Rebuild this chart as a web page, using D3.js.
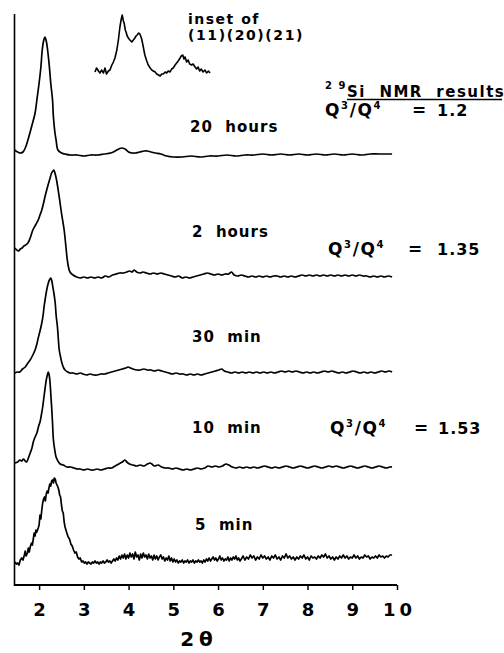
<!DOCTYPE html>
<html>
<head>
<meta charset="utf-8">
<script src="https://cdn.jsdelivr.net/npm/d3@7"></script>
<style>
  html, body { margin: 0; background: #fff; }
  svg { display: block; }
  text { font-family: "DejaVu Sans", sans-serif; font-weight: bold; fill: #000; }
</style>
</head>
<body>
<svg id="chart" width="504" height="653"></svg>
<script>
// ---- data: XRD patterns (2θ, intensity above each pattern's own baseline) ----
const tickValues = [2, 3, 4, 5, 6, 7, 8, 9, 10];
const tickLabels = ["2", "3", "4", "5", "6", "7", "8", "9", "10"];
const sampleNames = ["20  hours", "2  hours", "30  min", "10  min", "5  min"];
const stackOffsets = [430, 308, 212, 117, 22];
const nmrRatios = ["1.2", "1.35", null, "1.53", null];

const trace20h = [
  [1.45,5],[1.52,3],[1.58,2],[1.64,3],[1.70,8],[1.75,15],[1.83,28],[1.91,42],[1.95,55],[2.00,72],
  [2.04,88],[2.07,105],[2.10,114],[2.13,118],[2.16,114],[2.19,105],[2.23,88],[2.26,72],[2.30,55],
  [2.32,38],[2.355,22],[2.38,15],[2.42,5],[2.50,2],[2.58,1],[2.70,0],[2.85,0],[3.00,-1],[3.15,0],
  [3.30,0],[3.45,1],[3.60,2],[3.70,4],[3.78,6],[3.85,7],[3.92,6],[4.00,3],[4.08,2],[4.15,2],[4.25,3],
  [4.35,4],[4.42,4],[4.50,3],[4.60,2],[4.72,1],[4.85,-1],[5.00,-2],[5.20,-2],[5.40,-1],[5.60,-2],
  [5.80,-1],[6.00,-1],[6.20,0],[6.40,-1],[6.60,0],[6.80,0],[7.00,1],[7.20,0],[7.40,1],[7.60,0],
  [7.80,1],[8.00,0],[8.20,1],[8.40,0],[8.60,1],[8.80,0],[9.00,1],[9.20,0],[9.40,1],[9.60,1],[9.89,1]
];

const trace2h = [
  [1.46,29],[1.50,27],[1.54,26],[1.58,28],[1.62,29],[1.66,31],[1.70,32],[1.75,34],[1.80,39],[1.86,47],
  [1.92,52],[1.98,57],[2.02,62],[2.06,67],[2.10,74],[2.13,80],[2.17,87],[2.20,92],[2.24,98],[2.28,104],
  [2.31,106],[2.33,107],[2.36,103],[2.39,97],[2.45,80],[2.50,64],[2.56,47],[2.60,30],[2.64,14],
  [2.69,5],[2.76,2],[2.84,0],[2.92,-1],[3.00,0],[3.08,-1],[3.16,0],[3.24,-1],[3.32,0],[3.40,-1],
  [3.48,1],[3.56,0],[3.64,2],[3.72,3],[3.80,4],[3.88,4],[3.96,5],[4.02,6],[4.08,5],[4.12,7],[4.18,5],
  [4.26,4],[4.32,5],[4.40,4],[4.48,3],[4.56,4],[4.64,3],[4.72,4],[4.80,3],[4.88,2],[4.96,1],[5.04,0],
  [5.12,1],[5.20,-1],[5.28,0],[5.36,-1],[5.44,0],[5.52,1],[5.60,2],[5.68,3],[5.76,4],[5.84,3],[5.92,2],
  [6.00,3],[6.08,2],[6.16,3],[6.24,3],[6.30,5],[6.36,2],[6.44,1],[6.52,2],[6.60,1],[6.68,0],[6.76,1],
  [6.84,0],[6.92,1],[7.00,0],[7.08,1],[7.16,0],[7.24,1],[7.32,1],[7.40,0],[7.48,1],[7.56,0],[7.64,1],
  [7.72,0],[7.80,1],[7.88,2],[7.96,1],[8.04,2],[8.12,1],[8.20,2],[8.28,1],[8.36,2],[8.44,1],[8.52,2],
  [8.60,1],[8.68,2],[8.76,1],[8.84,2],[8.92,1],[9.00,2],[9.08,1],[9.16,2],[9.24,1],[9.32,1],[9.40,0],
  [9.48,1],[9.56,0],[9.64,1],[9.72,0],[9.80,1],[9.89,0]
];

const trace30m = [
  [1.46,0],[1.52,1],[1.57,1],[1.63,4],[1.69,6],[1.75,10],[1.80,13],[1.86,18],[1.91,23],[1.95,29],
  [1.98,35],[2.02,42],[2.06,50],[2.09,58],[2.11,66],[2.14,75],[2.17,83],[2.20,89],[2.23,93],[2.26,95],
  [2.28,93],[2.30,88],[2.33,80],[2.36,70],[2.38,58],[2.41,46],[2.43,34],[2.45,23],[2.48,16],[2.51,10],
  [2.55,5],[2.58,3],[2.64,1],[2.69,0],[2.76,0],[2.84,-1],[2.92,0],[2.98,-1],[3.06,-2],[3.14,-1],
  [3.22,-2],[3.30,-2],[3.38,-1],[3.46,-1],[3.54,0],[3.62,1],[3.70,2],[3.78,3],[3.86,4],[3.94,5],
  [3.99,6],[4.04,5],[4.10,4],[4.18,3],[4.26,3],[4.34,4],[4.42,3],[4.50,3],[4.58,2],[4.66,3],[4.74,2],
  [4.82,1],[4.90,0],[4.98,-1],[5.06,0],[5.14,-1],[5.22,-1],[5.30,-2],[5.38,-1],[5.46,-2],[5.54,-1],
  [5.62,-2],[5.70,-1],[5.78,0],[5.86,1],[5.94,2],[6.02,3],[6.08,4],[6.14,2],[6.22,1],[6.30,0],[6.38,1],
  [6.46,0],[6.54,1],[6.62,0],[6.70,1],[6.78,0],[6.86,1],[6.94,0],[7.02,1],[7.10,0],[7.18,1],[7.26,0],
  [7.34,1],[7.42,2],[7.50,1],[7.58,2],[7.66,1],[7.74,2],[7.82,1],[7.90,0],[7.98,1],[8.06,0],[8.14,1],
  [8.22,0],[8.30,1],[8.38,2],[8.46,1],[8.54,2],[8.62,1],[8.70,0],[8.78,1],[8.86,0],[8.94,1],[9.02,2],
  [9.10,1],[9.18,0],[9.26,1],[9.34,0],[9.42,1],[9.50,0],[9.58,1],[9.66,2],[9.74,1],[9.82,2],[9.89,1]
];

const trace10m = [
  [1.46,5],[1.52,6],[1.57,8],[1.61,7],[1.65,9],[1.69,7],[1.72,6],[1.76,10],[1.80,15],[1.84,20],
  [1.87,26],[1.91,31],[1.95,35],[1.99,42],[2.02,46],[2.05,53],[2.08,61],[2.10,68],[2.12,75],[2.14,82],
  [2.16,88],[2.19,94],[2.205,96],[2.22,94],[2.24,88],[2.26,75],[2.28,61],[2.30,45],[2.32,28],[2.35,18],
  [2.38,11],[2.42,7],[2.47,4],[2.54,3],[2.62,1],[2.70,1],[2.78,0],[2.86,-1],[2.92,-1],[3.00,-2],
  [3.08,-1],[3.16,-2],[3.22,-2],[3.30,-1],[3.38,-2],[3.46,-1],[3.54,0],[3.62,0],[3.70,2],[3.78,4],
  [3.86,6],[3.92,8],[3.96,6],[4.02,4],[4.10,3],[4.18,2],[4.26,3],[4.34,2],[4.42,4],[4.48,5],[4.52,4],
  [4.58,2],[4.66,3],[4.74,1],[4.82,0],[4.90,0],[4.98,-1],[5.06,0],[5.14,-1],[5.22,-2],[5.30,-1],
  [5.38,-2],[5.46,-1],[5.54,0],[5.62,-1],[5.70,0],[5.78,2],[5.86,1],[5.94,2],[6.02,1],[6.10,2],[6.18,4],
  [6.24,3],[6.32,1],[6.40,0],[6.48,1],[6.56,0],[6.64,1],[6.72,0],[6.80,1],[6.88,0],[6.96,1],[7.04,2],
  [7.12,1],[7.20,0],[7.28,1],[7.36,0],[7.44,1],[7.52,2],[7.60,1],[7.68,0],[7.76,1],[7.84,2],[7.92,1],
  [8.00,0],[8.08,1],[8.16,2],[8.24,1],[8.32,0],[8.40,1],[8.48,2],[8.56,1],[8.64,2],[8.72,1],[8.80,0],
  [8.88,1],[8.96,2],[9.04,1],[9.12,0],[9.20,1],[9.28,2],[9.36,1],[9.44,0],[9.52,1],[9.60,2],[9.68,1],
  [9.76,0],[9.84,1],[9.89,1]
];

const trace5m = [
  [1.46,1],[1.49,-1],[1.52,0],[1.55,-2],[1.58,3],[1.61,5],[1.64,3],[1.67,8],[1.69,12],[1.71,7],
  [1.74,10],[1.76,15],[1.78,11],[1.80,16],[1.83,20],[1.85,18],[1.87,24],[1.89,30],[1.91,27],[1.93,33],
  [1.95,31],[1.98,35],[2.00,38],[2.02,48],[2.04,44],[2.06,53],[2.08,60],[2.10,64],[2.12,66],[2.14,62],
  [2.16,69],[2.18,72],[2.20,70],[2.22,75],[2.24,79],[2.26,77],[2.28,82],[2.30,83],[2.32,80],[2.34,85],
  [2.36,84],[2.38,80],[2.40,78],[2.42,76],[2.44,73],[2.46,68],[2.48,66],[2.50,58],[2.52,52],[2.54,50],
  [2.56,41],[2.58,36],[2.60,33],[2.62,30],[2.65,26],[2.68,24],[2.71,19],[2.74,17],[2.77,13],[2.80,10],
  [2.83,11],[2.86,6],[2.89,4],[2.92,5],[2.95,1],[2.98,2],[3.01,0],[3.04,1],[3.07,-1],[3.10,1],[3.13,0],
  [3.16,-1],[3.19,1],[3.22,0],[3.25,2],[3.28,0],[3.31,1],[3.34,-1],[3.37,1],[3.40,0],[3.43,2],[3.46,0],
  [3.49,1],[3.52,3],[3.55,1],[3.58,2],[3.61,0],[3.64,2],[3.67,4],[3.70,2],[3.73,5],[3.76,3],[3.79,7],
  [3.82,4],[3.85,8],[3.88,5],[3.91,9],[3.94,4],[3.97,8],[4.00,5],[4.03,10],[4.06,6],[4.09,9],[4.12,4],
  [4.15,11],[4.18,6],[4.21,8],[4.24,3],[4.27,9],[4.30,5],[4.33,10],[4.36,6],[4.39,8],[4.42,4],[4.45,9],
  [4.48,5],[4.51,7],[4.54,3],[4.57,8],[4.60,4],[4.63,7],[4.66,3],[4.69,6],[4.72,8],[4.75,4],[4.78,6],
  [4.81,2],[4.84,5],[4.87,3],[4.90,7],[4.93,2],[4.96,5],[4.99,1],[5.02,4],[5.05,1],[5.08,3],[5.11,0],
  [5.14,2],[5.17,1],[5.20,3],[5.23,0],[5.26,2],[5.29,1],[5.32,3],[5.35,0],[5.38,2],[5.41,1],[5.44,3],
  [5.47,0],[5.50,2],[5.53,1],[5.56,3],[5.59,1],[5.62,2],[5.65,0],[5.68,3],[5.71,1],[5.74,4],[5.77,2],
  [5.80,5],[5.83,2],[5.86,4],[5.89,6],[5.92,3],[5.95,5],[5.98,2],[6.01,4],[6.04,7],[6.07,3],[6.10,5],
  [6.13,2],[6.16,4],[6.19,3],[6.22,6],[6.25,2],[6.28,5],[6.31,3],[6.34,6],[6.37,4],[6.40,7],[6.43,3],
  [6.46,5],[6.49,2],[6.52,4],[6.56,7],[6.60,3],[6.64,6],[6.68,4],[6.72,8],[6.76,5],[6.80,7],[6.84,3],
  [6.88,6],[6.92,4],[6.96,8],[7.00,5],[7.04,7],[7.08,4],[7.12,6],[7.16,3],[7.20,7],[7.24,5],[7.28,8],
  [7.32,4],[7.36,6],[7.40,3],[7.44,7],[7.48,5],[7.52,9],[7.56,5],[7.60,7],[7.64,4],[7.68,6],[7.72,3],
  [7.76,6],[7.80,4],[7.84,7],[7.88,5],[7.92,8],[7.96,4],[8.00,6],[8.04,3],[8.08,7],[8.12,5],[8.16,6],
  [8.20,4],[8.24,7],[8.28,5],[8.32,8],[8.36,6],[8.40,9],[8.44,5],[8.48,7],[8.52,4],[8.56,6],[8.60,3],
  [8.64,6],[8.68,4],[8.72,7],[8.76,5],[8.80,8],[8.84,5],[8.88,7],[8.92,4],[8.96,6],[9.00,5],[9.04,8],
  [9.08,5],[9.12,7],[9.16,4],[9.20,6],[9.24,5],[9.28,8],[9.32,6],[9.36,7],[9.40,4],[9.44,6],[9.48,5],
  [9.52,7],[9.56,5],[9.60,8],[9.64,6],[9.68,7],[9.72,5],[9.76,7],[9.80,6],[9.84,8],[9.89,8]
];

// enlarged (11)(20)(21) region of the 20 hour pattern
const insetScan = [
  [3.20,4],[3.24,8],[3.29,5],[3.33,3],[3.37,6],[3.42,3],[3.46,8],[3.50,2],[3.55,5],[3.59,6],[3.64,11],
  [3.68,14],[3.72,18],[3.77,26],[3.81,36],[3.85,49],[3.88,56],[3.91,61],[3.94,55],[3.96,53],[3.99,46],
  [4.01,44],[4.04,40],[4.07,38],[4.11,36],[4.16,34],[4.20,36],[4.24,38],[4.27,40],[4.30,41],[4.34,43],
  [4.37,42],[4.41,38],[4.44,33],[4.47,27],[4.50,21],[4.55,15],[4.59,11],[4.64,8],[4.68,6],[4.72,5],
  [4.77,4],[4.81,2],[4.86,1],[4.90,0],[4.94,2],[4.98,2],[5.03,4],[5.07,3],[5.11,5],[5.16,4],[5.20,7],
  [5.24,8],[5.29,11],[5.33,13],[5.37,15],[5.42,18],[5.45,20],[5.49,21],[5.52,17],[5.55,19],[5.59,14],
  [5.63,16],[5.67,12],[5.72,11],[5.76,12],[5.81,9],[5.85,7],[5.89,9],[5.93,5],[5.97,7],[6.02,4],
  [6.07,6],[6.11,3],[6.16,5],[6.20,3]
];

const traces = [trace20h, trace2h, trace30m, trace10m, trace5m];

// ---- layout ----
const svg = d3.select("#chart");
const x = d3.scaleLinear().domain([1.45, 10]).range([14.5, 397]);
const y = d3.scaleLinear().domain([0, 571]).range([585, 14]);
const insetX = d3.scaleLinear().domain([3.2, 6.2]).range([95, 210]);
const insetY = d3.scaleLinear().domain([0, 61]).range([76, 15]);

const nameLabelPos = [[190, 132], [192, 237], [192, 342], [192, 433], [195, 530]];
// [x of "Q", baseline, x of "=", x of value]
const ratioLabelPos = [[325, 116, 412, 437], [328, 255, 408, 437], null, [330, 434, 414, 438], null];

// patterns
traces.forEach((tr, i) => {
  const off = stackOffsets[i];
  const line = d3.line()
    .x(d => x(d[0]))
    .y(d => y(d[1] + off))
    .curve(i === 4 ? d3.curveLinear : d3.curveCatmullRom.alpha(0.5));
  svg.append("path")
    .attr("d", line(tr))
    .attr("fill", "none")
    .attr("stroke", "#000")
    .attr("stroke-width", 1.7)
    .attr("stroke-linejoin", "round");
});

// inset
svg.append("path")
  .attr("d", d3.line().x(d => insetX(d[0])).y(d => insetY(d[1])).curve(d3.curveLinear)(insetScan))
  .attr("fill", "none")
  .attr("stroke", "#000")
  .attr("stroke-width", 1.6)
  .attr("stroke-linejoin", "round");

// axes
const xAxis = d3.axisBottom(x)
  .tickValues(tickValues)
  .tickFormat((d, i) => tickLabels[i])
  .tickSize(5)
  .tickPadding(13);
const gx = svg.append("g").attr("transform", "translate(0,585)").call(xAxis);
gx.select(".domain").attr("d", `M${x(1.45)},0H${x(10)}`).attr("stroke", "#000").attr("stroke-width", 2);
gx.selectAll(".tick line").attr("stroke", "#000").attr("stroke-width", 1.5);
gx.selectAll(".tick text")
  .attr("fill", "#000")
  .style("font-family", "'DejaVu Sans', sans-serif")
  .style("font-weight", "bold")
  .style("font-size", "18px")
  .style("letter-spacing", "4px")
  .attr("dx", "2px");

svg.append("line")
  .attr("x1", x(1.45)).attr("x2", x(1.45))
  .attr("y1", 14).attr("y2", 586)
  .attr("stroke", "#000").attr("stroke-width", 1.6);

// axis title
svg.append("text")
  .attr("x", 199).attr("y", 646)
  .attr("text-anchor", "middle")
  .style("font-size", "20px")
  .style("letter-spacing", "5px")
  .text("2θ");

// sample labels
sampleNames.forEach((name, i) => {
  svg.append("text")
    .attr("x", nameLabelPos[i][0]).attr("y", nameLabelPos[i][1])
    .attr("xml:space", "preserve")
    .style("white-space", "pre")
    .style("font-size", "15px")
    .style("letter-spacing", "1px")
    .text(name);
});

// NMR ratio labels
nmrRatios.forEach((v, i) => {
  if (v === null) return;
  const [qx, by, ex, vx] = ratioLabelPos[i];
  const t = svg.append("text")
    .attr("x", qx).attr("y", by)
    .style("font-size", "17px")
    .style("letter-spacing", "1.6px");
  t.append("tspan").text("Q");
  t.append("tspan").attr("dy", -7).style("font-size", "10px").text("3");
  t.append("tspan").attr("dy", 7).text("/Q");
  t.append("tspan").attr("dy", -7).style("font-size", "10px").text("4");
  t.append("tspan").attr("dy", 7).attr("x", ex).text("=");
  t.append("tspan").attr("x", vx).style("font-size", "16px").style("letter-spacing", "1px").text(v);
});

// NMR heading
const h = svg.append("text").attr("x", 325).attr("y", 97)
  .attr("xml:space", "preserve").style("white-space", "pre")
  .style("font-size", "15px").style("letter-spacing", "1.5px");
h.append("tspan").attr("dy", -8).style("font-size", "10px").text("2 9");
h.append("tspan").attr("dy", 8).attr("x", 347).text("Si  NMR  results");
svg.append("line").attr("x1", 347).attr("x2", 502).attr("y1", 99.5).attr("y2", 99.5)
  .attr("stroke", "#000").attr("stroke-width", 1.5);

// inset caption
svg.append("text").attr("x", 188).attr("y", 24)
  .style("font-size", "14px").style("letter-spacing", "1.5px")
  .text("inset of");
svg.append("text").attr("x", 188).attr("y", 40)
  .style("font-size", "14px").style("letter-spacing", "1.6px")
  .text("(11)(20)(21)");
</script>
</body>
</html>
